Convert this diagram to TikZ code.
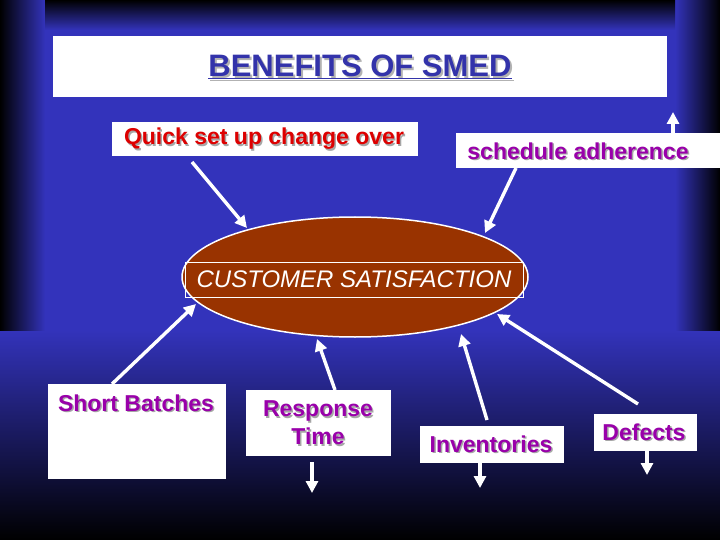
\documentclass[tikz,border=0pt]{standalone}
\usepackage{fontspec}
\setmainfont{Liberation Sans}
\usetikzlibrary{arrows.meta}
\definecolor{bgblue}{HTML}{3333BB}
\definecolor{ttl}{HTML}{3333AA}
\definecolor{pur}{HTML}{9900AA}
\definecolor{rd}{HTML}{DD0000}
\definecolor{brn}{HTML}{993300}
\begin{document}
\begin{tikzpicture}[x=1pt,y=-1pt,
  wbox/.style={fill=white,draw=none},
  arr/.style={draw=white,line width=3.4pt,-{Triangle[width=12pt,length=12pt]}},
  lbl/.style={font=\bfseries\fontsize{23}{28}\selectfont,inner sep=0pt,align=center},
  shd/.style={lbl,text=black!35}]
\useasboundingbox (0,0) rectangle (720,540);
\fill[bgblue] (0,0) rectangle (720,540);
\fill[top color=bgblue,bottom color=black] (0,330) rectangle (720,540);
\fill[left color=black,right color=bgblue] (0,0) rectangle (45,330);
\fill[left color=bgblue,right color=black] (675,0) rectangle (720,330);
\fill[top color=black,bottom color=bgblue] (45,0) rectangle (675,30);
% title
\fill[wbox] (53,36) rectangle (667,97);
\node[shd,text=black!30,font=\bfseries\fontsize{31}{36}\selectfont] (tsh) at (362,69) {\underline{BENEFITS OF SMED}};
\node[lbl,text=ttl,font=\bfseries\fontsize{31}{36}\selectfont] (title) at (360,67) {\underline{BENEFITS OF SMED}};
% top boxes
\fill[wbox] (112,122) rectangle (418,156);
\node[shd] at (265.5,140.5) {Quick set up change over};
\node[lbl,text=rd] (quick) at (264,139) {Quick set up change over};
\fill[wbox] (456,133) rectangle (720,168);
\node[shd] at (579.5,152.5) {schedule adherence};
\node[lbl,text=pur] (sched) at (578,151) {schedule adherence};
% ellipse
\draw[white,line width=1.5pt,fill=brn] (355,277) ellipse [x radius=173,y radius=60];
\draw[white,line width=0.7pt] (185,262) rectangle (523,297);
\node[text=white,font=\itshape\fontsize{24}{28}\selectfont,inner sep=0pt] (cs) at (354,279) {CUSTOMER SATISFACTION};
% bottom boxes
\fill[wbox] (48,384) rectangle (226,479);
\node[shd] at (137.5,404.5) {Short Batches};
\node[lbl,text=pur] (sb) at (136,403) {Short Batches};
\fill[wbox] (246,390) rectangle (391,456);
\node[shd] at (319.5,424.5) {Response\\Time};
\node[lbl,text=pur] (rt) at (318,423) {Response\\Time};
\fill[wbox] (420,426) rectangle (564,463);
\node[shd] at (492.5,445.5) {Inventories};
\node[lbl,text=pur] (inv) at (491,444) {Inventories};
\fill[wbox] (594,414) rectangle (697,451);
\node[shd] at (645.5,433.5) {Defects};
\node[lbl,text=pur] (def) at (644,432) {Defects};
% connector coordinates
\coordinate (q1) at (192,162); \coordinate (q2) at (247,228);
\coordinate (s1) at (516,168); \coordinate (s2) at (485,233);
\coordinate (su1) at (673,133); \coordinate (su2) at (673,112);
\coordinate (b1) at (112,384); \coordinate (b2) at (196,304);
\coordinate (r1) at (335,390); \coordinate (r2) at (317,339);
\coordinate (rd1) at (312,462); \coordinate (rd2) at (312,493);
\coordinate (i1) at (487,420); \coordinate (i2) at (461,334);
\coordinate (id1) at (480,463); \coordinate (id2) at (480,488);
\coordinate (d1) at (638,404); \coordinate (d2) at (497,314);
\coordinate (dd1) at (647,451); \coordinate (dd2) at (647,475);
\foreach \a/\b in {q1/q2,s1/s2,su1/su2,b1/b2,r1/r2,rd1/rd2,i1/i2,id1/id2,d1/d2,dd1/dd2}
  \draw[arr] (\a) -- (\b);
\end{tikzpicture}
\end{document}
